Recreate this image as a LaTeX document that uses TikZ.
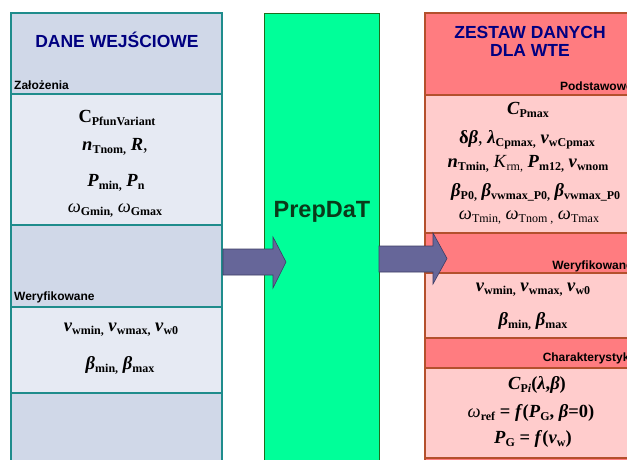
\documentclass[tikz,border=0pt]{standalone}
\usepackage{fontspec}
\usetikzlibrary{calc}
\setmainfont{Liberation Serif}
\newfontfamily\hdfont{Liberation Sans}
\definecolor{lhdr}{HTML}{D0D8E8}
\definecolor{lbody}{HTML}{E6EAF3}
\definecolor{lline}{HTML}{1F8C8C}
\definecolor{rhdr}{HTML}{FF7C80}
\definecolor{rbody}{HTML}{FFCCCC}
\definecolor{rline}{HTML}{B4502D}
\definecolor{gfill}{HTML}{00FF99}
\definecolor{gline}{HTML}{1E6E1E}
\definecolor{afill}{HTML}{666699}
\definecolor{aline}{HTML}{3C3C64}
\definecolor{navy}{HTML}{000080}
\definecolor{dgreen}{HTML}{0A3A1A}
\newcommand\vv[1]{\textbf{\textit{#1}}}
\newcommand\lob[1]{\raisebox{-0.35ex}{\fontsize{12}{13}\selectfont\bfseries\upshape #1}}
\newcommand\lon[1]{\raisebox{-0.35ex}{\fontsize{12}{13}\selectfont\mdseries\upshape #1}}
\newcommand\om{\textit{ω}}
\begin{document}
\begin{tikzpicture}[x=1pt,y=-1pt,
  sect/.style={line width=1.2pt, minimum width=211pt, anchor=north west, inner sep=0pt, outer sep=0pt},
  lh/.style={sect, fill=lhdr, draw=lline},
  lb/.style={sect, fill=lbody, draw=lline},
  rh/.style={sect, fill=rhdr, draw=rline},
  rb/.style={sect, fill=rbody, draw=rline},
  var/.style={font=\fontsize{18.5}{21}\selectfont, inner sep=0pt},
  lab/.style={font=\hdfont\bfseries\fontsize{12}{14}\selectfont, inner sep=0pt},
  title/.style={font=\hdfont\bfseries\fontsize{17.5}{18}\selectfont, text=navy, align=center, inner sep=0pt},
  blockarrow/.style={fill=afill, draw=aline, line width=0.6pt, line join=miter}]
\useasboundingbox (0,0) rectangle (627,459);
\clip (0,0) rectangle (627,459);
\fill[white] (0,0) rectangle (627,459);
% left column
\node[lh, minimum height=81pt] (L1) at (11,13) {};
\node[lb, minimum height=131pt] (L2) at (11,94) {};
\node[lh, minimum height=82pt] (L3) at (11,225) {};
\node[lb, minimum height=86pt] (L4) at (11,307) {};
\node[lh, minimum height=80pt] (L5) at (11,393) {};
% middle
\node[draw=gline, fill=gfill, line width=1.2pt, minimum width=115pt, minimum height=470pt, anchor=north west, inner sep=0pt] (G) at (264,13) {};
% right column
\node[rh, minimum height=82pt] (R1) at (425,13) {};
\node[rb, minimum height=138pt] (R2) at (425,95) {};
\node[rh, minimum height=40pt] (R3) at (425,233) {};
\node[rb, minimum height=65pt] (R4) at (425,273) {};
\node[rh, minimum height=30pt] (R5) at (425,338) {};
\node[rb, minimum height=90pt] (R6) at (425,368) {};
\node[rh, minimum height=30pt] (R7) at (425,458) {};
% arrows
\coordinate (a1s) at (223,262);
\coordinate (a2s) at (379,259);
\draw[blockarrow] ($(a1s)+(0,-13)$) -- ++(50,0) -- ++(0,-12) -- (286,262) -- (273,288) -- (273,275) -- ($(a1s)+(0,13)$) -- cycle;
\draw[blockarrow] ($(a2s)+(0,-13)$) -- (433,246) -- (433,233) -- (447,258.5) -- (433,284) -- (433,272) -- ($(a2s)+(0,13)$) -- cycle;
% left texts
\node[title] (t1) at (117,40) {DANE WEJŚCIOWE};
\node[lab, anchor=west] (z1) at (14,85) {Założenia};
\node[lab, anchor=west] (w1) at (14,297) {Weryfikowane};
\node[var] (l1) at (117,118) {\textbf{C}\lob{PfunVariant}};
\node[var] (l2) at (115,147) {\vv{n}\lob{Tnom,} \vv{R},};
\node[var] (l3) at (116,183) {\vv{P}\lob{min,} \vv{P}\lob{n}};
\node[var] (l4) at (115,211) {\om\lob{Gmin,} \om\lob{Gmax}};
\node[var] (l5) at (121,330) {\vv{v}\lob{wmin,} \vv{v}\lob{wmax,} \vv{v}\lob{w0}};
\node[var] (l6) at (120,365) {\vv{β}\lob{min,} \vv{β}\lob{max}};
% middle text
\node[font=\hdfont\bfseries\fontsize{23.5}{25}\selectfont, text=dgreen, inner sep=0pt] (pd) at (322,212) {PrepDaT};
% right texts
\node[title] (t2) at (530,41) {ZESTAW DANYCH\\DLA WTE};
\node[lab, anchor=east] (p2) at (633,86) {Podstawowe};
\node[lab, anchor=east] (w2) at (633,266) {Weryfikowane};
\node[lab, anchor=east] (c2) at (633,358) {Charakterystyki};
\node[var] (r1) at (528,110) {\vv{C}\lob{Pmax}};
\node[var] (r2) at (527,140) {\textbf{δ}\vv{β}, \vv{λ}\lob{Cpmax,} \vv{v}\lob{wCpmax}};
\node[var] (r3) at (528,164) {\vv{n}\lob{Tmin,} \textit{K}\lon{rm,} \vv{P}\lob{m12,} \vv{v}\lob{wnom}};
\node[var, anchor=west] (r4) at (451,192) {\vv{β}\lob{P0,} \vv{β}\lob{vwmax\_P0,} \vv{β}\lob{vwmax\_P0}};
\node[var] (r5) at (529,218) {\om\lon{Tmin,} \om\lon{Tnom ,} \om\lon{Tmax}};
\node[var] (r6) at (533,290) {\vv{v}\lob{wmin,} \vv{v}\lob{wmax,} \vv{v}\lob{w0}};
\node[var] (r7) at (533,321) {\vv{β}\lob{min,} \vv{β}\lob{max}};
\node[var] (r8) at (537,385) {\vv{C}\lob{P\textit{i}}\textbf{(}\vv{λ}\textbf{,}\vv{β}\textbf{)}};
\node[var] (r9) at (531,413) {\om\lob{ref} \textbf{=} \vv{f}\textbf{(}\vv{P}\lob{G}\textbf{,} \vv{β}\textbf{=0)}};
\node[var] (r10) at (533,439) {\vv{P}\lob{G} \textbf{=} \vv{f}\textbf{(}\vv{v}\lob{w}\textbf{)}};
\end{tikzpicture}
\end{document}
